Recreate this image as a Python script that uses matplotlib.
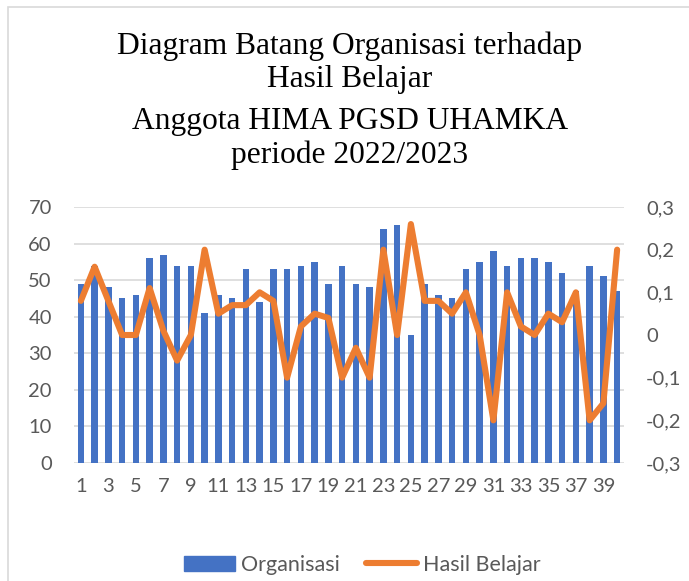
import matplotlib
matplotlib.use("Agg")
import matplotlib.pyplot as plt
from matplotlib.patches import Rectangle
from matplotlib.lines import Line2D
from matplotlib.patches import Patch
from matplotlib.ticker import FuncFormatter

categories = list(range(1, 41))
organisasi = [49, 54, 48, 45, 46, 56, 57, 54, 54, 41, 46, 45, 53, 44, 53, 53, 54, 55, 49, 54,
              49, 48, 64, 65, 35, 49, 46, 45, 53, 55, 58, 54, 56, 56, 55, 52, 47, 54, 51, 47]
hasil_belajar = [0.08, 0.16, 0.08, 0, 0, 0.11, 0.01, -0.06, 0, 0.2, 0.05, 0.07, 0.07, 0.1, 0.08,
                 -0.1, 0.02, 0.05, 0.04, -0.1, -0.03, -0.1, 0.2, 0, 0.26, 0.08, 0.08, 0.05, 0.1, 0,
                 -0.2, 0.1, 0.02, 0, 0.05, 0.03, 0.1, -0.2, -0.16, 0.2]
title_lines = ["Diagram Batang Organisasi terhadap", "Hasil Belajar",
               "Anggota HIMA PGSD UHAMKA", "periode 2022/2023"]
left_ticks = [0, 10, 20, 30, 40, 50, 60, 70]
right_ticks = [-0.3, -0.2, -0.1, 0, 0.1, 0.2, 0.3]

BLUE = "#4472C4"
ORANGE = "#ED7D31"
GRID = "#D9D9D9"
TXT = "#595959"
FONT = "Lato"
TICK_FS = 14.5

W, H = 689, 581
fig = plt.figure(figsize=(W / 100, H / 100), dpi=100)

# chart border
fig.patches.append(Rectangle((8 / W, -0.1), 1.2, 1 - 7 / H + 0.1, transform=fig.transFigure,
                             fill=False, edgecolor=GRID, linewidth=1.2))

ax = fig.add_axes([74 / W, 1 - 463 / H, 550 / W, 256 / H])
ax.bar(categories, organisasi, width=0.48, color=BLUE, zorder=2)
ax.set_xlim(0.5, 40.5)
ax.set_ylim(0, 70)
ax.set_yticks(left_ticks)
ax.grid(axis="y", color=GRID, linewidth=1.2, zorder=0)
ax.set_axisbelow(True)
for s in ax.spines.values():
    s.set_visible(False)
ax.set_xticks(categories[::2])
ax.set_xticklabels([str(c) for c in categories[::2]])
ax.tick_params(axis="both", length=0, colors=TXT, labelsize=TICK_FS)
ax.tick_params(axis="y", pad=16)
ax.tick_params(axis="x", pad=11)
for lab in ax.get_xticklabels() + ax.get_yticklabels():
    lab.set_fontfamily(FONT)

ax2 = ax.twinx()
ax2.plot(categories, hasil_belajar, color=ORANGE, linewidth=4.4, solid_joinstyle="round",
         solid_capstyle="round", zorder=3)
ax2.set_ylim(-0.3, 0.3)
ax2.set_yticks(right_ticks)
ax2.yaxis.set_major_formatter(FuncFormatter(lambda v, p: ("%g" % round(v, 1)).replace(".", ",")))
for s in ax2.spines.values():
    s.set_visible(False)
ax2.tick_params(axis="y", length=0, colors=TXT, labelsize=TICK_FS, pad=16)
for lab in ax2.get_yticklabels():
    lab.set_fontfamily(FONT)

# title
ys = [46, 80, 121, 155]
for t, y in zip(title_lines, ys):
    fig.text(350 / W, 1 - y / H, t, ha="center", va="center", fontsize=22.7,
             fontfamily="Liberation Serif", color="black")

handles = [Patch(facecolor=BLUE, edgecolor=BLUE),
           Line2D([0], [0], color=ORANGE, linewidth=4.4, solid_capstyle="round")]
fig.legend(handles, ["Organisasi", "Hasil Belajar"], loc="center",
           bbox_to_anchor=(362 / W, 1 - 565 / H), ncol=2, frameon=False,
           prop={"family": FONT, "size": 15.5}, labelcolor=TXT, handlelength=2.4,
           handletextpad=0.25, columnspacing=1.2)

fig.savefig("out.png", dpi=100)
